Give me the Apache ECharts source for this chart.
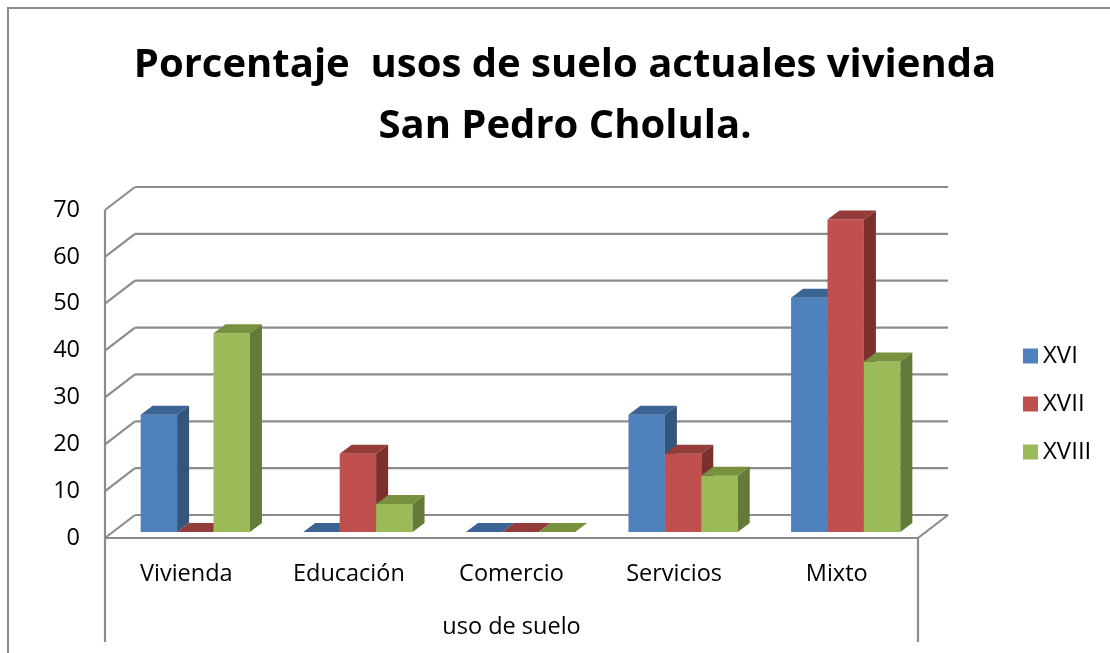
<!DOCTYPE html>
<html>
<head>
<meta charset="utf-8">
<script src="https://cdn.jsdelivr.net/npm/echarts@6/dist/echarts.min.js"></script>
<style>
  html, body { margin: 0; padding: 0; background: #fff; }
  #chart { width: 1110px; height: 653px; }
</style>
</head>
<body>
<div id="chart"></div>
<script>
// datos
const categorias = ['Vivienda', 'Educación', 'Comercio', 'Servicios', 'Mixto'];
const siglos = ['XVI', 'XVII', 'XVIII'];
const xvi = [25, 0, 0, 25, 50];
const xvii = [0, 16.7, 0, 16.7, 66.7];
const xviii = [42.4, 6, 0, 12, 36.4];
const yTicks = [0, 10, 20, 30, 40, 50, 60, 70];

const valores = [xvi, xvii, xviii];
const frente = ['#4F81BD', '#C0504D', '#9BBB59'];
const lado = ['#34557c', '#7b302e', '#647a38'];
const arriba = ['#3b6393', '#943c3a', '#78913f'];

// profundidad "3d"
const WALL_DX = 30, WALL_DY = 23;
const BAR_DX = 9, BAR_DY = 6;
const SIDE_DX = 12, SIDE_DY = 9;
const GRID_COLOR = '#8c8c8c';
const FONT = '"Open Sans", sans-serif';

let myChart = echarts.init(document.getElementById('chart'));

function frameItem(params, api) {
  const v = api.value(1);
  const cs = params.coordSys;
  const left = cs.x, right = cs.x + cs.width;
  const y = api.coord([0, v])[1];
  const st = { stroke: GRID_COLOR, lineWidth: 2.2 };
  const kids = [
    { type: 'line', shape: { x1: left, y1: y, x2: left + WALL_DX, y2: y - WALL_DY }, style: st },
    { type: 'line', shape: { x1: left + WALL_DX, y1: y - WALL_DY, x2: right + WALL_DX, y2: y - WALL_DY }, style: st }
  ];
  if (params.dataIndex === 0) {
    const yTop = api.coord([0, yTicks[yTicks.length - 1]])[1];
    kids.push(
      { type: 'line', shape: { x1: left, y1: y, x2: right, y2: y }, style: st },
      { type: 'line', shape: { x1: right, y1: y, x2: right + WALL_DX, y2: y - WALL_DY }, style: st },
      { type: 'line', shape: { x1: left, y1: yTop, x2: left, y2: y + 104 }, style: st },
      { type: 'line', shape: { x1: right, y1: y, x2: right, y2: y + 104 }, style: st }
    );
  }
  return { type: 'group', children: kids };
}

function barItem(si) {
  return function (params, api) {
    const ci = api.value(0), v = api.value(1);
    const base = api.coord([ci, 0]);
    const top = api.coord([ci, v]);
    const band = api.size([1, 0])[0];
    const w = band * 0.224;
    const x0 = base[0] - 1.5 * w + si * w + BAR_DX;
    const x1 = x0 + w;
    const yb = base[1] - BAR_DY, yt = top[1] - BAR_DY;
    return {
      type: 'group',
      children: [
        { type: 'rect', shape: { x: x0, y: yt, width: w, height: yb - yt }, style: { fill: frente[si] } },
        { type: 'polygon', shape: { points: [[x1, yt], [x1 + SIDE_DX, yt - SIDE_DY], [x1 + SIDE_DX, yb - SIDE_DY], [x1, yb]] }, style: { fill: lado[si] } },
        { type: 'polygon', shape: { points: [[x0, yt], [x0 + SIDE_DX, yt - SIDE_DY], [x1 + SIDE_DX, yt - SIDE_DY], [x1, yt]] }, style: { fill: arriba[si] } }
      ]
    };
  };
}

const barSeries = siglos.map((name, si) => ({
  name: name,
  type: 'custom',
  renderItem: barItem(si),
  itemStyle: { color: frente[si] },
  data: categorias.map((c, i) => [i, valores[si][i]]),
  z: 3 + si
}));

const option = {
  animation: false,
  backgroundColor: '#fff',
  title: {
    text: 'Porcentaje  usos de suelo actuales vivienda\nSan Pedro Cholula.',
    left: 560,
    top: 30,
    textAlign: 'center',
    textStyle: { fontFamily: FONT, fontWeight: 'bold', fontSize: 40, lineHeight: 61, color: '#000' }
  },
  legend: {
    data: siglos,
    orient: 'vertical',
    left: 1023,
    top: 344,
    padding: 0,
    itemWidth: 15,
    itemHeight: 15,
    itemGap: 24,
    icon: 'rect',
    textStyle: { fontFamily: FONT, fontSize: 24, lineHeight: 24, color: '#000' }
  },
  graphic: [
    { type: 'polyline', shape: { points: [[8, 653], [8, 8], [1110, 8]] }, style: { stroke: '#8a8a8a', lineWidth: 2, fill: null } }
  ],
  grid: { left: 105, right: 192, top: 210, bottom: 115 },
  xAxis: {
    type: 'category',
    data: categorias,
    axisLine: { show: false },
    axisTick: { show: false },
    axisLabel: { fontFamily: FONT, fontSize: 23.5, color: '#000', margin: 24 },
    name: 'uso de suelo',
    nameLocation: 'middle',
    nameGap: 77,
    nameTextStyle: { fontFamily: FONT, fontSize: 23.5, color: '#000' }
  },
  yAxis: {
    type: 'value',
    min: 0,
    max: 70,
    interval: 10,
    axisLine: { show: false },
    axisTick: { show: false },
    splitLine: { show: false },
    axisLabel: { fontFamily: FONT, fontSize: 23.5, color: '#000', margin: 25 }
  },
  series: [
    {
      name: 'marco',
      type: 'custom',
      renderItem: frameItem,
      silent: true,
      data: yTicks.map(v => [0, v]),
      z: 1
    }
  ].concat(barSeries)
};

myChart.setOption(option);
</script>
</body>
</html>
